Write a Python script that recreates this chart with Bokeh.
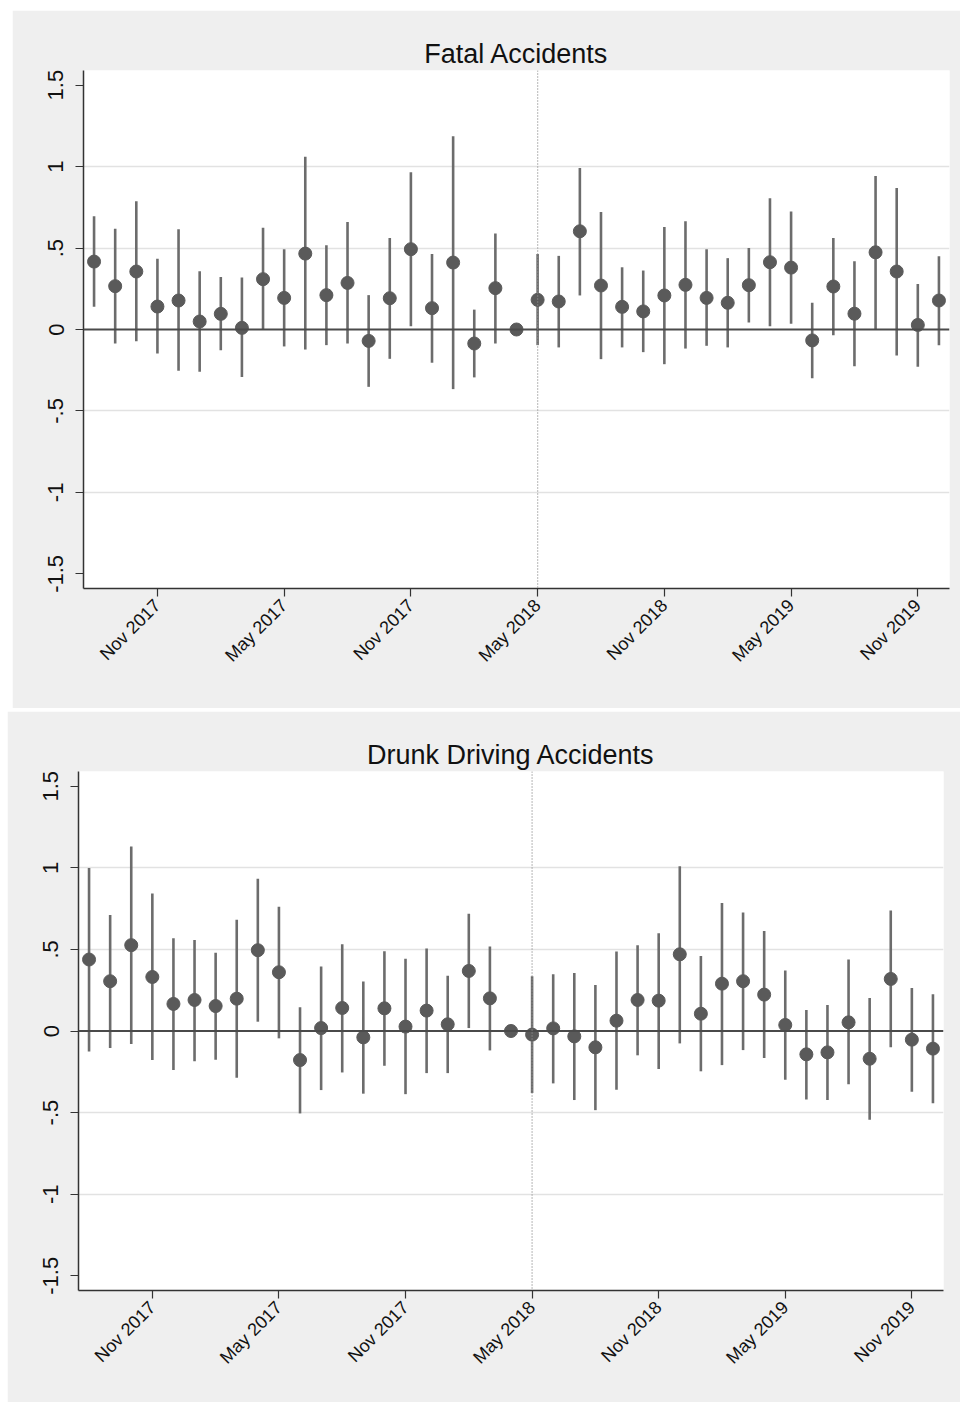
import math
from bokeh.plotting import figure
from bokeh.models import FixedTicker, Span, Range1d
from bokeh.layouts import column
from bokeh.embed import file_html
from bokeh.resources import INLINE

# Monthly event-study estimates, Aug 2016 .. Dec 2019 (reference month Apr 2018 = 0)
months = ["2016-08", "2016-09", "2016-10", "2016-11", "2016-12",
          "2017-01", "2017-02", "2017-03", "2017-04", "2017-05", "2017-06",
          "2017-07", "2017-08", "2017-09", "2017-10", "2017-11", "2017-12",
          "2018-01", "2018-02", "2018-03", "2018-04", "2018-05", "2018-06",
          "2018-07", "2018-08", "2018-09", "2018-10", "2018-11", "2018-12",
          "2019-01", "2019-02", "2019-03", "2019-04", "2019-05", "2019-06",
          "2019-07", "2019-08", "2019-09", "2019-10", "2019-11", "2019-12"]

tick_months = ["2016-11", "2017-05", "2017-11", "2018-05", "2018-11", "2019-05", "2019-11"]
tick_labels = ["Nov 2017", "May 2017", "Nov 2017", "May 2018", "Nov 2018", "May 2019", "Nov 2019"]
policy_month = "2018-05"

y_ticks = [-1.5, -1, -0.5, 0, 0.5, 1, 1.5]
y_tick_labels = ["-1.5", "-1", "-.5", "0", ".5", "1", "1.5"]

fatal_est = [0.417, 0.266, 0.356, 0.141, 0.178, 0.049, 0.096, 0.010, 0.309, 0.194, 0.466,
             0.211, 0.286, -0.070, 0.192, 0.493, 0.131, 0.411, -0.086, 0.254, 0.0,
             0.182, 0.172, 0.603, 0.270, 0.139, 0.111, 0.209, 0.274, 0.194, 0.164,
             0.272, 0.413, 0.380, -0.067, 0.264, 0.097, 0.474, 0.356, 0.028, 0.178]
fatal_hi = [0.695, 0.618, 0.787, 0.434, 0.616, 0.358, 0.323, 0.319, 0.624, 0.493, 1.061,
            0.517, 0.660, 0.211, 0.562, 0.965, 0.464, 1.186, 0.122, 0.589, 0.0,
            0.464, 0.452, 0.992, 0.722, 0.382, 0.362, 0.630, 0.665, 0.493, 0.438,
            0.501, 0.806, 0.724, 0.164, 0.562, 0.419, 0.943, 0.869, 0.280, 0.450]
fatal_lo = [0.139, -0.086, -0.072, -0.147, -0.254, -0.260, -0.127, -0.292, 0.0, -0.104, -0.123,
            -0.096, -0.086, -0.352, -0.180, 0.020, -0.204, -0.366, -0.294, -0.086, 0.0,
            -0.096, -0.110, 0.209, -0.182, -0.110, -0.139, -0.213, -0.117, -0.100, -0.110,
            0.043, 0.020, 0.035, -0.299, -0.035, -0.225, 0.0, -0.160, -0.229, -0.096]

drunk_est = [0.438, 0.305, 0.526, 0.331, 0.166, 0.190, 0.153, 0.198, 0.495, 0.360, -0.178,
             0.018, 0.141, -0.039, 0.139, 0.027, 0.125, 0.041, 0.368, 0.200, 0.0,
             -0.022, 0.016, -0.033, -0.100, 0.063, 0.190, 0.186, 0.470, 0.106, 0.290,
             0.305, 0.223, 0.037, -0.143, -0.131, 0.053, -0.170, 0.319, -0.053, -0.108]
drunk_hi = [0.998, 0.710, 1.131, 0.843, 0.569, 0.558, 0.479, 0.681, 0.933, 0.761, 0.145,
            0.395, 0.532, 0.303, 0.489, 0.442, 0.505, 0.339, 0.718, 0.517, 0.0,
            0.335, 0.348, 0.356, 0.282, 0.487, 0.526, 0.599, 1.010, 0.460, 0.785,
            0.726, 0.613, 0.370, 0.129, 0.160, 0.438, 0.202, 0.738, 0.264, 0.225]
drunk_lo = [-0.125, -0.104, -0.080, -0.178, -0.239, -0.186, -0.176, -0.286, 0.057, -0.045, -0.505,
            -0.362, -0.254, -0.384, -0.213, -0.387, -0.258, -0.258, 0.018, -0.119, 0.0,
            -0.380, -0.321, -0.423, -0.485, -0.360, -0.149, -0.233, -0.076, -0.247, -0.209,
            -0.117, -0.166, -0.299, -0.419, -0.423, -0.327, -0.544, -0.100, -0.372, -0.442]

FONT = "Liberation Sans"
BG = "#EFEFEF"


def make_panel(title, est, lo, hi, width, height, mb_left, mb_right, mb_top, mb_bottom):
    x = list(range(len(months)))
    p = figure(width=width, height=height, output_backend="svg", toolbar_location=None,
               x_range=Range1d(-0.5, len(months) - 0.5), y_range=Range1d(-1.59, 1.59),
               min_border_left=mb_left, min_border_right=mb_right,
               min_border_top=mb_top, min_border_bottom=mb_bottom)
    p.background_fill_color = "white"
    p.border_fill_color = BG
    p.outline_line_color = None

    p.title.text = title
    p.title.align = "center"
    p.title.text_font = FONT
    p.title.text_font_size = "27px"
    p.title.text_font_style = "normal"
    p.title.text_color = "#111111"
    p.title.standoff = 4

    p.xgrid.visible = False
    p.ygrid.ticker = FixedTicker(ticks=[-1, -0.5, 0.5, 1])
    p.ygrid.grid_line_color = "#E2E2E2"
    p.ygrid.grid_line_width = 1.3

    # axes
    p.yaxis.ticker = FixedTicker(ticks=y_ticks)
    p.yaxis.major_label_overrides = {t: s for t, s in zip(y_ticks, y_tick_labels)}
    p.yaxis.major_label_orientation = "vertical"
    p.yaxis.major_label_text_font_size = "22px"
    p.yaxis.major_label_standoff = 12

    xt = [months.index(m) for m in tick_months]
    p.xaxis.ticker = FixedTicker(ticks=xt)
    p.xaxis.major_label_overrides = {t: s for t, s in zip(xt, tick_labels)}
    p.xaxis.major_label_orientation = math.pi / 4
    p.xaxis.major_label_text_font_size = "18px"
    p.xaxis.major_label_standoff = 6

    for ax in (p.xaxis, p.yaxis):
        ax.axis_line_color = "#333333"
        ax.axis_line_width = 1.5
        ax.major_tick_line_color = "#333333"
        ax.major_tick_line_width = 1.2
        ax.major_tick_out = 8
        ax.major_tick_in = 0
        ax.minor_tick_out = 0
        ax.minor_tick_in = 0
        ax.major_label_text_font = FONT
        ax.major_label_text_color = "#111111"

    # reference lines
    p.add_layout(Span(location=0, dimension="width", line_color="#4A4A4A", line_width=1.8))
    p.add_layout(Span(location=months.index(policy_month), dimension="height",
                      line_color="#8E8E8E", line_width=1.3, line_dash="1 2"))

    # confidence intervals and point estimates
    p.segment(x0=x, y0=lo, x1=x, y1=hi, line_color="#6C6C6C", line_width=2.6)
    p.scatter(x=x, y=est, size=13, fill_color="#5A5A5A", line_color="#5A5A5A")
    return p


# the axis reserves ~17px on the right, so the top figure is made wider and clipped
p1 = make_panel("Fatal Accidents", fatal_est, fatal_lo, fatal_hi,
                width=954, height=698, mb_left=71, mb_right=17, mb_top=60, mb_bottom=120)
p1.margin = (10, 0, 3, 12)

p2 = make_panel("Drunk Driving Accidents", drunk_est, drunk_lo, drunk_hi,
                width=953, height=691, mb_left=71, mb_right=17, mb_top=60, mb_bottom=112)
p2.margin = (0, 0, 0, 7)

layout = column(p1, p2, width=960, height=1402, sizing_mode="fixed",
                styles={"overflow": "hidden"})
layout.spacing = 0

open("out.html", "w").write(file_html(layout, INLINE))
